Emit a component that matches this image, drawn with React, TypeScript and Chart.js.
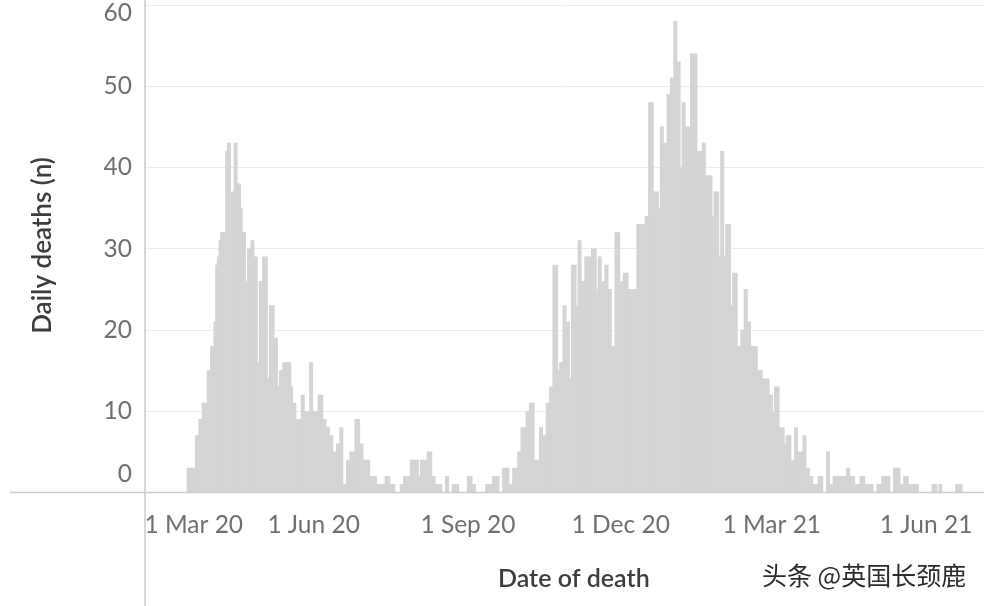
import { useEffect, useRef } from 'react'
import { Chart, registerables } from 'chart.js'

Chart.register(...registerables)

const firstDay = Date.UTC(2020, 1, 22)
const beforeFirstDeath = [
  0, 0, 0, 0, 0, 0, 0, 0, 0, 0, 0, 0, 0, 0, 0, 0, 0, 0, 0, 0, 0, 0, 0, 0, 0,
]
const firstWave = [
  3, 3, 3, 3, 3, 7, 7, 9, 9, 11, 11, 11, 15, 15, 18, 18, 21, 28, 29, 31, 32, 32, 32, 42, 43, 43, 37, 37, 43, 43,
  38, 38, 35, 32, 32, 26, 30, 30, 31, 31, 29, 29, 16, 26, 26, 29, 29, 29, 14, 23, 23, 23, 19, 19, 13, 15, 15, 16, 16, 16,
  16, 16, 13, 11, 11, 9, 9, 9, 12, 12, 10, 10, 10, 16, 16, 10, 10, 10, 12, 12, 12, 9, 9, 8, 8, 7, 7, 5, 5, 6,
  6, 8, 8, 1, 1, 4, 4, 5, 5, 5, 9, 9, 9, 6, 6, 4, 4, 4, 4, 2, 2, 2, 2, 1, 1,
]
const summer = [
  1, 1, 1, 2, 2, 2, 1, 1, 1, 0, 0, 0, 1, 1, 2, 2, 2, 2, 4, 4, 4, 4, 4, 2, 4, 4, 4, 4, 5, 5, 5, 2, 2, 1, 1, 1, 1, 0, 0,
  2, 2, 0, 0, 1, 1, 1, 1, 0, 0, 0, 0, 0, 2, 2, 2, 1, 1, 0, 0, 0, 0, 0, 0, 1, 1, 1, 1, 2, 2, 2, 2, 0, 0, 3, 3, 3, 3, 1, 1,
  3, 3, 3, 5, 5, 8, 8, 8, 10, 10, 11, 11, 11, 4, 4, 4,
]
const autumn = [
  8, 8, 7, 7, 11, 11, 13, 13, 28, 28, 28, 15, 16, 16, 23, 23, 21, 21, 14, 28, 28, 28, 23, 31, 31, 26, 26, 29, 29, 29, 29,
  30, 30, 30, 25, 29, 29, 26, 26, 28, 28, 25, 25, 18, 18, 32, 32, 32, 26, 26, 27, 27, 27, 25, 25, 25, 25, 25, 33, 33, 33,
  33, 33, 34,
]
const winter = [
  34, 48, 48, 48, 37, 37, 37, 35, 45, 45, 43, 43, 49, 49, 51, 51, 58, 58, 53, 53, 40, 48, 48, 45, 45, 45, 54, 54, 54, 54,
  42, 42, 42, 43, 43, 39, 39, 39, 39, 34, 37, 37, 37, 29, 42, 42, 29, 33, 33, 33,
]
const spring = [
  23, 27, 27, 27, 18, 18, 20, 20, 25, 25, 21, 21, 18, 18, 18, 18, 15, 15, 15, 14, 14, 14, 14, 12, 12, 10, 13, 13, 13, 8, 8, 8,
  6, 7, 7, 7, 4, 4, 8, 8, 5, 5, 5, 7, 7, 3, 3, 2, 2, 1, 1, 1, 2, 2, 2, 0, 0, 5, 5, 1, 1,
]
const tail = [
  2, 2, 2, 2, 2, 2, 2, 2, 3, 3, 2, 2, 2, 1, 1, 1, 2, 2, 2, 1, 1, 1, 1, 1, 0, 0, 1, 1, 1, 2, 2, 2, 2, 2, 0, 0, 3, 3, 3, 3,
  1, 1, 2, 2, 2, 1, 1, 1, 1, 1, 1, 0, 0, 0, 0, 0, 0, 0, 0, 1, 1, 1, 0, 1, 1, 0, 0, 0, 0, 0, 0, 0, 0, 1, 1, 1, 1,
  0, 0, 0, 0, 0, 0, 0, 0, 0, 0, 0, 0, 0,
]
const dailyDeaths = [...beforeFirstDeath, ...firstWave, ...summer, ...autumn, ...winter, ...spring, ...tail]

const deathDates = dailyDeaths.map((_, i) => new Date(firstDay + i * 86400000).toISOString().slice(0, 10))
const tickDates = ['2020-03-01', '2020-06-01', '2020-09-01', '2020-12-01', '2021-03-01', '2021-06-01']
const tickLabels = ['1 Mar 20', '1 Jun 20', '1 Sep 20', '1 Dec 20', '1 Mar 21', '1 Jun 21']

const TICK_COLOR = '#6f6f6f'
const TITLE_COLOR = '#3d3d3d'
const FONT = 'Lato, "Open Sans", sans-serif'

// the Tableau axis lines run past the plot area on both sides
const axisLines = {
  id: 'axisLines',
  afterDraw(chart: Chart) {
    const { ctx, chartArea, width, height } = chart
    ctx.save()
    ctx.strokeStyle = '#cbcbcb'
    ctx.lineWidth = 1.5
    ctx.beginPath()
    ctx.moveTo(10, chartArea.bottom)
    ctx.lineTo(width, chartArea.bottom)
    ctx.moveTo(chartArea.left, 0)
    ctx.lineTo(chartArea.left, height)
    ctx.stroke()
    ctx.restore()
  },
}

export default function App() {
  const chartRef = useRef<HTMLCanvasElement>(null)

  useEffect(() => {
    if (!chartRef.current) return

    const chart = new Chart(chartRef.current, {
      type: 'bar',
      data: {
        labels: deathDates,
        datasets: [
          {
            label: 'Daily deaths (n)',
            data: dailyDeaths,
            backgroundColor: '#d4d4d4',
            borderWidth: 0,
            barPercentage: 1,
            categoryPercentage: 1,
          },
        ],
      },
      plugins: [axisLines],
      options: {
        responsive: false,
        animation: false,
        layout: { padding: { top: 5, left: 0, right: 0, bottom: 0 } },
        plugins: {
          legend: { display: false },
          tooltip: { enabled: false },
        },
        scales: {
          x: {
            type: 'category',
            grid: {
              drawOnChartArea: false,
              tickLength: 5,
              tickColor: (ctx) => (tickDates.includes(deathDates[ctx.index]) ? '#e6e6e6' : 'transparent'),
            },
            border: { display: false },
            title: {
              display: true,
              text: '   Date of death',
              color: TITLE_COLOR,
              font: { family: FONT, size: 25, weight: '600' },
              padding: { top: 0, bottom: 12 },
            },
            ticks: {
              autoSkip: false,
              maxRotation: 0,
              minRotation: 0,
              padding: 13,
              color: TICK_COLOR,
              font: { family: FONT, size: 24.5 },
              callback: (_value, index) => {
                const at = tickDates.indexOf(deathDates[index])
                if (at < 0) return null
                // first label is pushed clear of the y axis line
                return at === 0 ? ' '.repeat(11) + tickLabels[at] : tickLabels[at]
              },
            },
            afterFit: (scale) => {
              scale.height = 113.5
              scale.paddingLeft = 0
              scale.paddingRight = 0
            },
          },
          y: {
            min: 0,
            max: 60,
            grid: { color: '#ebebeb', lineWidth: 1, drawTicks: false },
            border: { display: false },
            title: {
              display: true,
              text: ' Daily deaths (n)',
              color: TITLE_COLOR,
              font: { family: FONT, size: 26, weight: '600' },
              padding: { top: 27, bottom: 0 },
            },
            ticks: {
              stepSize: 10,
              padding: 13,
              color: TICK_COLOR,
              // blank lines nudge the end labels inside the plot, like the original
              font: (ctx) => {
                const v = ctx.tick ? ctx.tick.value : 10
                return { family: FONT, size: 24.5, lineHeight: v === 0 ? '36px' : v === 60 ? '16px' : 1.2 }
              },
              callback: (value) => {
                if (value === 0) return ['0', '']
                if (value === 60) return ['', '60']
                return String(value)
              },
            },
            afterFit: (scale) => {
              scale.width = 145
              scale.paddingTop = 0
              scale.paddingBottom = 0
            },
          },
        },
      },
    })

    return () => {
      chart.destroy()
    }
  }, [])

  return (
    <div style={{ position: 'absolute', left: 0, top: 0, width: 984, height: 606, overflow: 'hidden', background: '#fff' }}>
      <canvas ref={chartRef} width={984} height={606} style={{ display: 'block' }}></canvas>
      <div
        style={{
          position: 'absolute',
          left: 762,
          top: 556,
          fontFamily: '"Noto Sans CJK SC", sans-serif',
          fontSize: 25,
          color: '#2b2b2b',
          whiteSpace: 'nowrap',
        }}
      >
        头条 @英国长颈鹿
      </div>
    </div>
  )
}
